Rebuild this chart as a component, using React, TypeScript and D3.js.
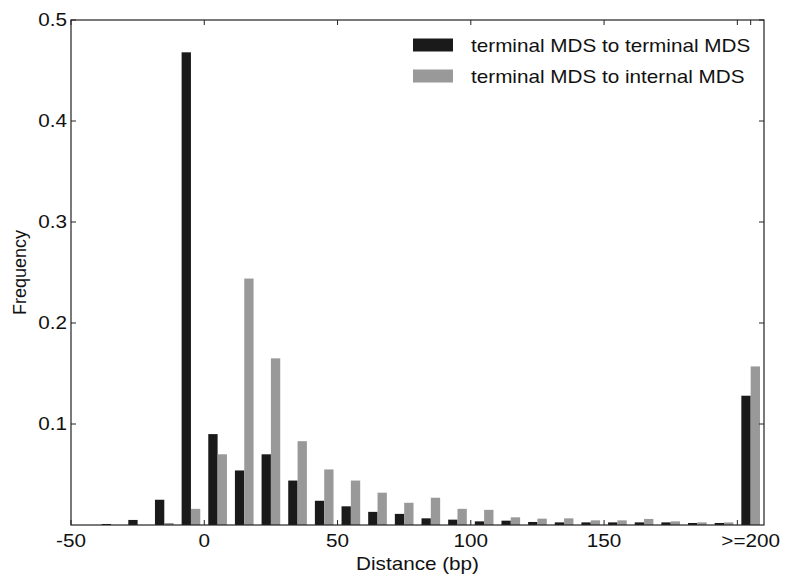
import React from "react";
import * as d3 from "d3";

// bin centres (bp), last bin is the ">=200" bucket
const binCenters = [-45, -35, -25, -15, -5, 5, 15, 25, 35, 45, 55, 65, 75, 85, 95, 105, 115, 125, 135, 145, 155, 165, 175, 185, 195, 205];
const terminalToTerminal = [0, 0.001, 0.005, 0.025, 0.468, 0.09, 0.054, 0.07, 0.044, 0.024, 0.0185, 0.013, 0.011, 0.0066, 0.0053, 0.0036, 0.0043, 0.003, 0.0026, 0.0026, 0.0026, 0.0026, 0.0026, 0.002, 0.002, 0.128];
const terminalToInternal = [0, 0, 0, 0.002, 0.016, 0.07, 0.244, 0.165, 0.083, 0.055, 0.044, 0.032, 0.022, 0.027, 0.016, 0.015, 0.0076, 0.0063, 0.0066, 0.0046, 0.0046, 0.006, 0.0036, 0.0026, 0.0026, 0.157];
const seriesNames = ["terminal MDS to terminal MDS", "terminal MDS to internal MDS"];
const xTicks = [-50, 0, 50, 100, 150, 200];
const xTickLabels = ["-50", "0", "50", "100", "150", ""];
const lastLabel = ">=200";
const yTicks = [0.1, 0.2, 0.3, 0.4, 0.5];

const W = 785, H = 580;
const margin = { top: 20, right: 21, bottom: 55, left: 71 };
const font = "'Liberation Sans', Arial, Helvetica, sans-serif";
const colors = ["#1a1a1a", "#999999"];
const stretch = 1.15; // the original's lettering is a bit wide

// text drawn with a slight horizontal stretch
function Label({ x, y, anchor = "start", size = 18, children }: any) {
  return (
    <text transform={`translate(${x},${y}) scale(${stretch},1)`} textAnchor={anchor} fontSize={size} fill="#111">
      {children}
    </text>
  );
}

export default function App() {
  const x = d3.scaleLinear().domain([-50, 210]).range([margin.left, W - margin.right]);
  const y = d3.scaleLinear().domain([0, 0.5]).range([H - margin.bottom, margin.top]);
  const barW = 3.5; // in data units
  const series = [terminalToTerminal, terminalToInternal];
  const x0 = margin.left, x1 = W - margin.right, y0 = H - margin.bottom, y1 = margin.top;
  const tickLen = 5;

  return (
    <svg width={W} height={H} style={{ position: "absolute", left: 0, top: 0, background: "#fff" }} fontFamily={font}>
      {series.map((vals, si) =>
        binCenters.map((c, i) => {
          const left = si === 0 ? c - barW : c;
          return (
            <rect key={si + "-" + i}
              x={x(left)} width={x(left + barW) - x(left)}
              y={y(vals[i])} height={y(0) - y(vals[i])}
              fill={colors[si]} />
          );
        })
      )}
      {/* frame */}
      <rect x={x0} y={y1} width={x1 - x0} height={y0 - y1} fill="none" stroke="#222" strokeWidth={1.2} />
      {xTicks.map((t, i) => (
        <g key={"xt" + i}>
          <line x1={x(t)} x2={x(t)} y1={y0} y2={y0 - tickLen} stroke="#222" />
          <line x1={x(t)} x2={x(t)} y1={y1} y2={y1 + tickLen} stroke="#222" />
          <Label x={x(t)} y={y0 + 22} anchor="middle">{xTickLabels[i]}</Label>
        </g>
      ))}
      <line x1={x(205)} x2={x(205)} y1={y1} y2={y1 + tickLen} stroke="#222" />
      <Label x={x(205)} y={y0 + 22} anchor="middle">{lastLabel}</Label>
      {yTicks.map((t, i) => (
        <g key={"yt" + i}>
          <line x1={x0} x2={x0 + tickLen} y1={y(t)} y2={y(t)} stroke="#222" />
          <line x1={x1} x2={x1 - tickLen} y1={y(t)} y2={y(t)} stroke="#222" />
          <Label x={x0 - 4} y={y(t) + 6} anchor="end">{t.toFixed(1)}</Label>
        </g>
      ))}
      <Label x={(x0 + x1) / 2} y={570} anchor="middle">Distance (bp)</Label>
      <text transform={`translate(26,${(y0 + y1) / 2}) rotate(-90)`} textAnchor="middle" fontSize={18} fill="#111">Frequency</text>
      {seriesNames.map((name, i) => (
        <g key={"lg" + i}>
          <rect x={413} y={38.5 + i * 31} width={40} height={13} fill={colors[i]} />
          <Label x={471} y={52 + i * 31}>{name}</Label>
        </g>
      ))}
    </svg>
  );
}
